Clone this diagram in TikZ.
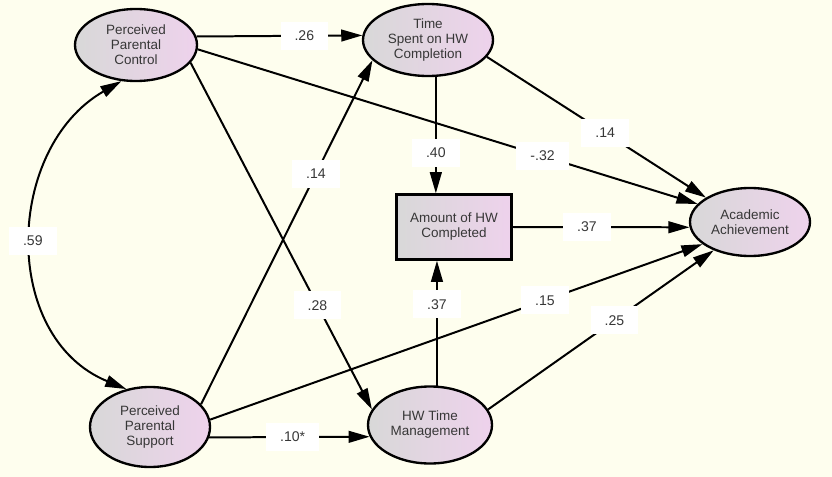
\documentclass[tikz,border=0pt]{standalone}
\usepackage{fontspec}
\setmainfont{Liberation Sans}
\usetikzlibrary{arrows.meta,shapes.geometric}
\definecolor{bgyellow}{RGB}{254,254,238}
\definecolor{nodegray}{RGB}{216,216,216}
\definecolor{nodepink}{RGB}{238,210,236}
\definecolor{txtgray}{RGB}{55,55,55}

\begin{document}
\begin{tikzpicture}[x=0.03cm, y=-0.03cm,
        var/.style={ellipse, draw=black, line width=2pt, left color=nodegray, right color=nodepink,
            inner sep=0pt, align=center, text=txtgray, font=\fontsize{11.5}{12.8}\selectfont},
        obs/.style={rectangle, draw=black, line width=2pt, left color=nodegray, right color=nodepink,
            inner sep=0pt, align=center, text=txtgray, font=\fontsize{11.5}{12.8}\selectfont},
        arr/.style={line width=1.7pt, -{Triangle[length=18pt,width=10pt]}},
        coef/.style={fill=white, inner xsep=0.42cm, inner ysep=0pt, minimum height=0.84cm,
            text=txtgray, font=\fontsize{12}{14}\selectfont}]
        \fill[bgyellow] (0,0) rectangle (832,477);
        \useasboundingbox (0,0) rectangle (832,477);
        \node[var, minimum width=3.66cm, minimum height=2.16cm] (ppc) at (136,45) {Perceived\\Parental\\Control};
        \node[var, minimum width=3.9cm, minimum height=2.16cm] (time) at (428,40) {Time\\Spent on HW\\Completion};
        \node[obs, minimum width=3.45cm, minimum height=1.95cm] (amount) at (454,227) {Amount of HW\\Completed};
        \node[var, minimum width=3.6cm, minimum height=2.04cm] (ach) at (750,222) {Academic\\Achievement};
        \node[var, minimum width=3.6cm, minimum height=2.4cm] (pps) at (150,427) {Perceived\\Parental\\Support};
        \node[var, minimum width=3.72cm, minimum height=2.31cm] (hwtm) at (430,425) {HW Time\\Management};
        \draw[arr] (ppc.8) -- node[coef, pos=0.65] {.26} (time.176);
        \draw[arr] (ppc.-4) -- node[coef, pos=0.69] {-.32} (ach.161);
        \draw[arr] (ppc.-18) -- node[coef, pos=0.7] {.28} (hwtm.165);
        \draw[arr] (pps.24) -- node[coef, pos=0.67] {.14} (time.200);
        \draw[arr] (pps.7) -- node[coef, pos=0.68] {.15} (ach.205);
        \draw[arr] (pps.-10) -- node[coef, pos=0.52] {.10*} (hwtm.191);
        \draw[arr] (time.-78) -- node[coef, pos=0.65] {.40} (time.-78 |- amount.north);
        \draw[arr] (time.-16) -- node[coef, pos=0.54] {.14} (ach.151);
        \draw[arr] (amount.east) -- node[coef, pos=0.42] {.37} (ach.185);
        \draw[arr] (hwtm.80) -- node[coef, pos=0.65] {.37} (hwtm.80 |- amount.south);
        \draw[arr] (hwtm.15) -- node[coef, pos=0.56] {.25} (ach.218);
        \draw[arr, {Triangle[length=18pt,width=10pt]}-{Triangle[length=18pt,width=10pt]}]
            (pps.122) .. controls (0,337) and (5,148) .. node[coef] {.59} (ppc.248);
    \end{tikzpicture}
\end{document}
